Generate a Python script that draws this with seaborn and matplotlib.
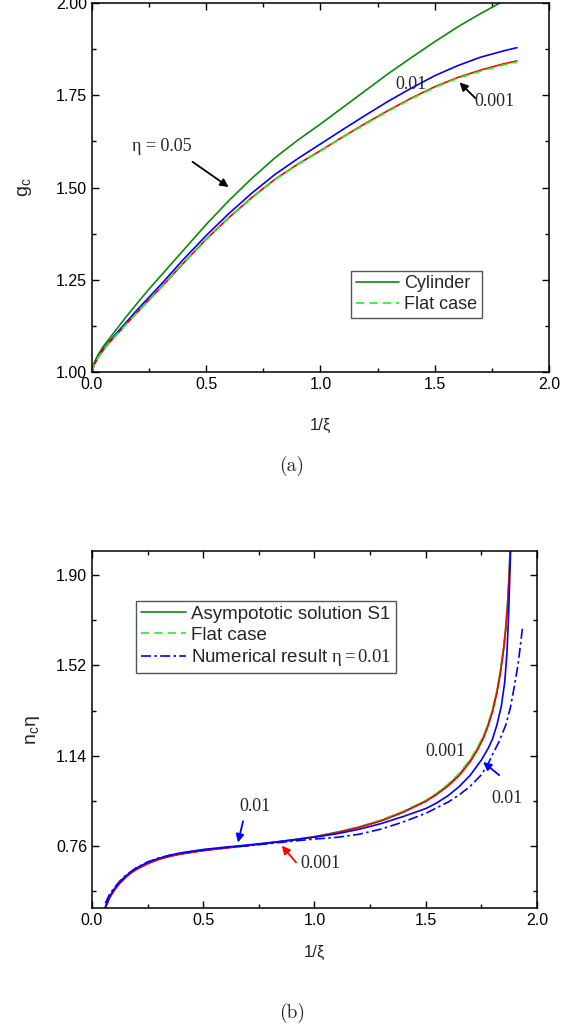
import matplotlib
matplotlib.use("Agg")
import matplotlib.pyplot as plt
import seaborn as sns
from matplotlib.ticker import MultipleLocator, FixedLocator, FormatStrFormatter

# -------------------------------
# Data
# -------------------------------
# (a) g_c versus 1/xi
cyl_x = [0.0, 0.01, 0.025, 0.05, 0.075, 0.1, 0.15, 0.2, 0.25, 0.3, 0.4, 0.5, 0.6,
         0.7, 0.8, 0.9, 1.0, 1.1, 1.2, 1.3, 1.4, 1.5, 1.6, 1.7, 1.8, 1.9]
cyl_005 = [1.0, 1.025, 1.045, 1.07, 1.09, 1.11, 1.15, 1.188, 1.225, 1.26, 1.33, 1.4,
           1.465, 1.525, 1.58, 1.628, 1.672, 1.718, 1.764, 1.81, 1.853, 1.895, 1.935,
           1.971, 2.005, 2.038]

eta_x = [0.0, 0.01, 0.025, 0.05, 0.075, 0.1, 0.15, 0.2, 0.25, 0.3, 0.4, 0.5, 0.6,
         0.7, 0.8, 0.9, 1.0, 1.1, 1.2, 1.3, 1.4, 1.5, 1.6, 1.7, 1.8, 1.86]
cyl_001 = [1.0, 1.022, 1.04, 1.063, 1.082, 1.1, 1.135, 1.17, 1.203, 1.236, 1.305,
           1.37, 1.43, 1.485, 1.535, 1.578, 1.618, 1.658, 1.697, 1.735, 1.77, 1.803,
           1.83, 1.853, 1.87, 1.879]
cyl_0001 = [1.0, 1.02, 1.038, 1.06, 1.079, 1.096, 1.13, 1.163, 1.196, 1.228, 1.295,
            1.36, 1.419, 1.473, 1.522, 1.563, 1.60, 1.638, 1.675, 1.71, 1.743, 1.773,
            1.798, 1.818, 1.835, 1.843]
flat_a = [1.0, 1.02, 1.038, 1.06, 1.079, 1.096, 1.13, 1.163, 1.195, 1.227, 1.294,
          1.359, 1.418, 1.472, 1.521, 1.562, 1.599, 1.637, 1.673, 1.708, 1.741, 1.771,
          1.796, 1.815, 1.832, 1.840]

# (b) n_c*eta versus 1/xi
nb_x = [0.06, 0.08, 0.10, 0.125, 0.15, 0.175, 0.20, 0.25, 0.30, 0.35, 0.40, 0.50,
        0.60, 0.70, 0.80, 0.90, 1.00, 1.10, 1.20, 1.30, 1.40, 1.50, 1.55, 1.60,
        1.65, 1.70, 1.73, 1.76, 1.78, 1.80, 1.82, 1.835, 1.85, 1.86, 1.868, 1.874, 1.88]
s1_b = [0.50, 0.545, 0.575, 0.605, 0.628, 0.648, 0.663, 0.687, 0.705, 0.718, 0.728,
        0.742, 0.753, 0.763, 0.774, 0.786, 0.80, 0.818, 0.84, 0.868, 0.905, 0.95, 0.98,
        1.016, 1.06, 1.12, 1.165, 1.22, 1.27, 1.33, 1.41, 1.49, 1.59, 1.68, 1.78, 1.88, 2.02]
flat_b = [0.50, 0.545, 0.575, 0.605, 0.628, 0.648, 0.663, 0.687, 0.705, 0.718, 0.728,
          0.742, 0.753, 0.763, 0.774, 0.786, 0.80, 0.819, 0.841, 0.87, 0.907, 0.952, 0.983,
          1.02, 1.065, 1.125, 1.17, 1.225, 1.275, 1.335, 1.415, 1.495, 1.595, 1.69, 1.79, 1.89, 2.03]
eta0001_b = [0.50, 0.544, 0.574, 0.604, 0.627, 0.647, 0.662, 0.686, 0.704, 0.717, 0.727,
             0.741, 0.752, 0.762, 0.773, 0.785, 0.799, 0.817, 0.839, 0.866, 0.903, 0.948,
             0.978, 1.013, 1.056, 1.115, 1.16, 1.215, 1.265, 1.325, 1.405, 1.485, 1.585,
             1.675, 1.775, 1.875, 2.01]

s01_x = [0.06, 0.08, 0.10, 0.125, 0.15, 0.175, 0.20, 0.25, 0.30, 0.35, 0.40, 0.50,
         0.60, 0.70, 0.80, 0.90, 1.00, 1.10, 1.20, 1.30, 1.40, 1.50, 1.55, 1.60,
         1.65, 1.70, 1.75, 1.78, 1.80, 1.82, 1.84, 1.855, 1.865, 1.872, 1.877, 1.882]
eta001_b = [0.505, 0.55, 0.58, 0.61, 0.633, 0.652, 0.668, 0.692, 0.709, 0.722, 0.732,
            0.746, 0.756, 0.765, 0.775, 0.786, 0.798, 0.812, 0.831, 0.855, 0.885, 0.918,
            0.942, 0.972, 1.01, 1.058, 1.122, 1.17, 1.21, 1.27, 1.35, 1.45, 1.57, 1.72,
            1.87, 2.02]

num_x = [0.06, 0.08, 0.10, 0.125, 0.15, 0.20, 0.25, 0.30, 0.35, 0.40, 0.50, 0.60,
         0.70, 0.80, 0.90, 1.00, 1.10, 1.20, 1.30, 1.40, 1.50, 1.60, 1.65, 1.70,
         1.75, 1.78, 1.80, 1.83, 1.86, 1.88, 1.90, 1.915, 1.925, 1.935]
num_b = [0.52, 0.56, 0.585, 0.613, 0.636, 0.67, 0.694, 0.71, 0.722, 0.731, 0.744,
         0.754, 0.762, 0.771, 0.781, 0.79, 0.797, 0.81, 0.832, 0.862, 0.898, 0.945,
         0.975, 1.012, 1.06, 1.105, 1.145, 1.20, 1.27, 1.34, 1.44, 1.525, 1.60, 1.68]

# colours
DARK_GREEN = "#0a8a0a"
LIME = "#22ee22"
BLUE = "#0000ff"
RED = "#ff0000"

sns.set_style("ticks")
plt.rcParams["font.family"] = ["Liberation Sans", "DejaVu Sans"]
plt.rcParams["mathtext.fontset"] = "custom"
plt.rcParams["mathtext.rm"] = "Liberation Serif"
plt.rcParams["mathtext.sf"] = "Liberation Sans"
plt.rcParams["mathtext.it"] = "Liberation Serif:italic"

fig = plt.figure(figsize=(5.84, 10.30), dpi=100)
ax1 = fig.add_axes([0.1575, 0.6388, 0.7825, 0.3583])
ax2 = fig.add_axes([0.1575, 0.1184, 0.762, 0.3466])

SERIF = ["Liberation Serif", "DejaVu Serif"]
LW = 1.2


def style_axes(ax):
    for s in ax.spines.values():
        s.set_linewidth(1.1)
        s.set_color("black")
    ax.tick_params(which="both", direction="in", top=True, right=True,
                   labelsize=11.5, width=1.0, colors="black")
    ax.tick_params(which="major", length=5)
    ax.tick_params(which="minor", length=3)
    ax.xaxis.set_major_locator(MultipleLocator(0.5))
    ax.xaxis.set_minor_locator(MultipleLocator(0.25))
    ax.xaxis.set_major_formatter(FormatStrFormatter("%.1f"))
    ax.set_xlim(0, 2.0)


def arrow(ax, tip, tail, color):
    ax.annotate("", xy=tip, xytext=tail,
                arrowprops=dict(arrowstyle="-|>", color=color, lw=1.3, mutation_scale=12))


# -------------------------------
# Panel (a)
# -------------------------------
sns.lineplot(x=cyl_x, y=cyl_005, ax=ax1, color=DARK_GREEN, lw=LW)
sns.lineplot(x=eta_x, y=cyl_001, ax=ax1, color=BLUE, lw=LW)
sns.lineplot(x=eta_x, y=cyl_0001, ax=ax1, color=RED, lw=LW)
sns.lineplot(x=eta_x, y=flat_a, ax=ax1, color=LIME, lw=LW)
ax1.lines[-1].set_dashes((5, 3))

style_axes(ax1)
ax1.set_ylim(1.0, 2.0)
ax1.yaxis.set_major_locator(MultipleLocator(0.25))
ax1.yaxis.set_minor_locator(MultipleLocator(0.125))
ax1.yaxis.set_major_formatter(FormatStrFormatter("%.2f"))
ax1.set_xlabel("1/ξ", fontsize=12, labelpad=19)
ax1.set_ylabel(r"$\mathsf{g_c}$", fontsize=14, labelpad=16)

ax1.text(0.307, 1.61, "η = 0.05", fontsize=13, family=SERIF, ha="center", va="center")
arrow(ax1, (0.608, 1.497), (0.43, 1.574), "black")
ax1.text(1.397, 1.78, "0.01", fontsize=13, family=SERIF, ha="center", va="center")
ax1.text(1.763, 1.733, "0.001", fontsize=13, family=SERIF, ha="center", va="center")
arrow(ax1, (1.60, 1.79), (1.686, 1.737), "black")

h1 = [ax1.lines[0], ax1.lines[3]]
ax1.legend(h1, ["Cylinder", "Flat case"], loc="upper left", bbox_to_anchor=(0.567, 0.274),
           fontsize=13, frameon=True, fancybox=False, edgecolor="#555555",
           framealpha=1, handlelength=2.4, handletextpad=0.3, borderpad=0.25,
           labelspacing=0.2, borderaxespad=0)

# -------------------------------
# Panel (b)
# -------------------------------
sns.lineplot(x=nb_x, y=s1_b, ax=ax2, color=DARK_GREEN, lw=LW)
sns.lineplot(x=nb_x, y=flat_b, ax=ax2, color=LIME, lw=LW)
ax2.lines[-1].set_dashes((5, 3))
sns.lineplot(x=nb_x, y=eta0001_b, ax=ax2, color=RED, lw=LW)
sns.lineplot(x=s01_x, y=eta001_b, ax=ax2, color=BLUE, lw=LW)
sns.lineplot(x=num_x, y=num_b, ax=ax2, color=BLUE, lw=LW)
ax2.lines[-1].set_dashes((6, 2, 1.5, 2))

style_axes(ax2)
ax2.set_ylim(0.5, 2.0)
ax2.yaxis.set_major_locator(FixedLocator([0.76, 1.14, 1.52, 1.90]))
ax2.yaxis.set_minor_locator(FixedLocator([0.57, 0.95, 1.33, 1.71]))
ax2.yaxis.set_major_formatter(FormatStrFormatter("%.2f"))
ax2.set_xlabel("1/ξ", fontsize=12, labelpad=12)
ax2.set_ylabel(r"$\mathsf{n_c\eta}$", fontsize=14, labelpad=10)

ax2.text(0.732, 0.925, "0.01", fontsize=13, family=SERIF, ha="center", va="center")
arrow(ax2, (0.653, 0.764), (0.682, 0.876), BLUE)
ax2.text(1.026, 0.687, "0.001", fontsize=13, family=SERIF, ha="center", va="center")
arrow(ax2, (0.845, 0.771), (0.925, 0.683), RED)
ax2.text(1.589, 1.159, "0.001", fontsize=13, family=SERIF, ha="center", va="center")
ax2.text(1.866, 0.96, "0.01", fontsize=13, family=SERIF, ha="center", va="center")
arrow(ax2, (1.748, 1.121), (1.84, 1.051), BLUE)

h2 = [ax2.lines[0], ax2.lines[1], ax2.lines[4]]
ax2.legend(h2, ["Asympototic solution S1", "Flat case", r"Numerical result $\mathrm{\eta{=}0.01}$"],
           loc="upper left", bbox_to_anchor=(0.099, 0.86),
           fontsize=13.5, frameon=True, fancybox=False, edgecolor="#555555",
           framealpha=1, handlelength=2.4, handletextpad=0.3, borderpad=0.25,
           labelspacing=0.2, borderaxespad=0)

fig.text(0.5, 1 - 466 / 1030, "(a)", fontsize=14, family=["cmr10", "DejaVu Serif"],
         ha="center", va="center")
fig.text(0.5, 1 - 1013 / 1030, "(b)", fontsize=14, family=["cmr10", "DejaVu Serif"],
         ha="center", va="center")

fig.savefig("out.png", dpi=100)
